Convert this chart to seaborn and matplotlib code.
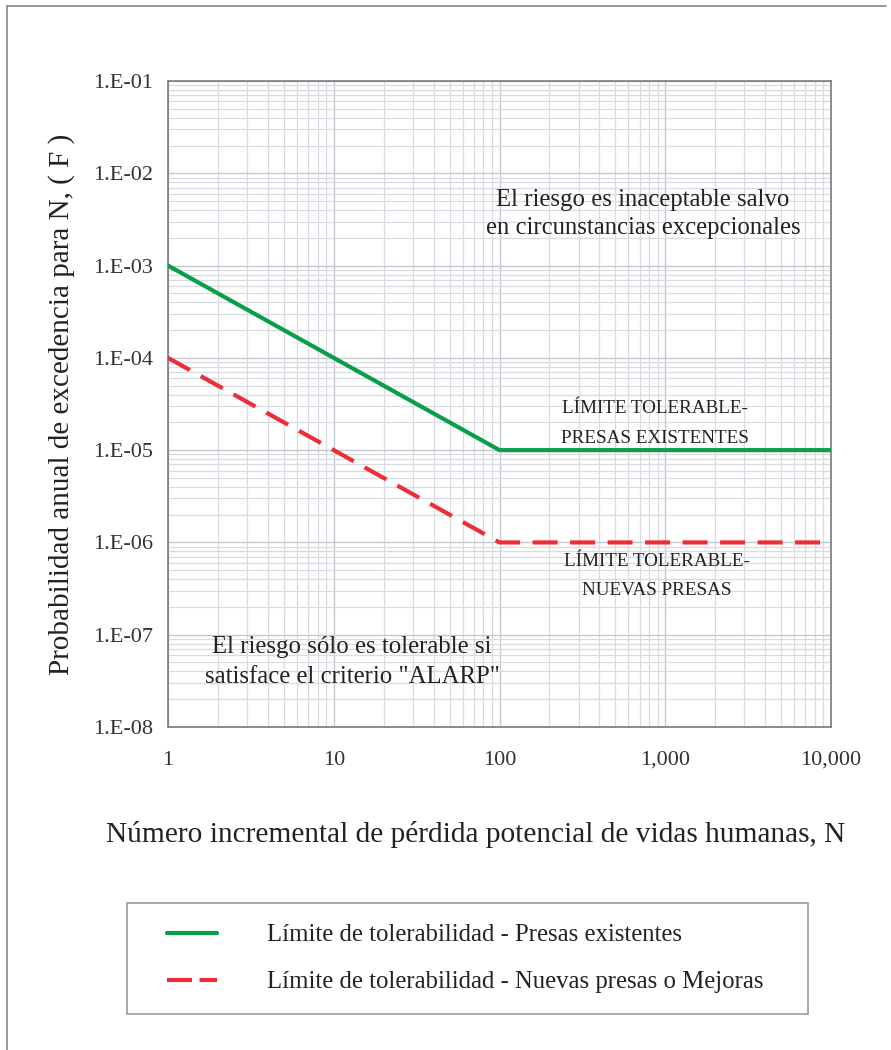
import numpy as np
import pandas as pd
import matplotlib
matplotlib.use("Agg")
import matplotlib.pyplot as plt
from matplotlib.lines import Line2D
from matplotlib.ticker import FixedLocator, FuncFormatter, LogLocator, NullFormatter
import seaborn as sns

## data
n_vidas = [1, 100, 10000]
f_existentes = [1e-3, 1e-5, 1e-5]
f_nuevas = [1e-4, 1e-6, 1e-6]
lbl_existentes = "Límite de tolerabilidad - Presas existentes"
lbl_nuevas = "Límite de tolerabilidad - Nuevas presas o Mejoras"
x_ticks = [1, 10, 100, 1000, 10000]
x_ticklabels = ["1", "10", "100", "1,000", "10,000"]
y_ticks = [1e-8, 1e-7, 1e-6, 1e-5, 1e-4, 1e-3, 1e-2, 1e-1]
y_ticklabels = ["1.E-08", "1.E-07", "1.E-06", "1.E-05", "1.E-04", "1.E-03", "1.E-02", "1.E-01"]

sns.set_style("white")
plt.rcParams['font.family'] = ['Liberation Serif', 'DejaVu Serif']

W, H = 891, 1050
fig = plt.figure(figsize=(W/100, H/100), dpi=100)
ax = fig.add_axes([168/W, 1-727/H, (831-168)/W, (727-81)/H])

green = "#0a9e4a"
red = "#ee2e36"
df1 = pd.DataFrame({"N": n_vidas, "F": f_existentes})
df2 = pd.DataFrame({"N": n_vidas, "F": f_nuevas})
sns.lineplot(data=df1, x="N", y="F", color=green, lw=3, ax=ax, zorder=5, label=lbl_existentes)
sns.lineplot(data=df2, x="N", y="F", color=red, lw=3, ax=ax, zorder=5, label=lbl_nuevas)
ax.lines[1].set_dashes([6, 3])
ax.set_xscale("log")
ax.set_yscale("log")
ax.set_xlim(1, 10000)
ax.set_ylim(1e-8, 1e-1)

ax.xaxis.set_major_locator(FixedLocator(x_ticks))
ax.xaxis.set_major_formatter(FuncFormatter(lambda v, p: x_ticklabels[x_ticks.index(v)] if v in x_ticks else ""))
ax.yaxis.set_major_locator(FixedLocator(y_ticks))
ax.yaxis.set_major_formatter(FuncFormatter(lambda v, p: y_ticklabels[int(round(np.log10(v)))+8]))
ax.xaxis.set_minor_locator(LogLocator(base=10, subs=np.arange(2, 10)))
ax.yaxis.set_minor_locator(LogLocator(base=10, subs=np.arange(2, 10)))
ax.xaxis.set_minor_formatter(NullFormatter())
ax.yaxis.set_minor_formatter(NullFormatter())
ax.grid(which="major", color="#c4c8d0", lw=1)
ax.grid(which="minor", color="#d8dbe2", lw=0.9)
ax.tick_params(which="major", length=5, width=1, color="#777777", labelsize=16, labelcolor="#333333", pad=6)
ax.tick_params(which="minor", length=0)
ax.tick_params(axis="x", pad=12)
for s in ax.spines.values():
    s.set_color("#7a7a7a")
    s.set_linewidth(1.2)

ax.set_xlabel("Número incremental de pérdida potencial de vidas humanas, N", fontsize=21.2, color="#222222")
ax.set_ylabel("Probabilidad anual de excedencia para N, ( F )", fontsize=21, color="#222222")
ax.xaxis.set_label_coords((476-168)/663, (727-834)/646)
ax.yaxis.set_label_coords((62-168)/663, 0.5)
ax.xaxis.label.set_va("center")
ax.yaxis.label.set_va("center")

tk = dict(ha="center", va="center", color="#222222")
ax.text(735, 3.6e-3, "El riesgo es inaceptable salvo\nen circunstancias excepcionales", fontsize=17.8, linespacing=1.38, **tk)
ax.text(870, 1.95e-5, "LÍMITE TOLERABLE-\nPRESAS EXISTENTES", fontsize=13.8, linespacing=1.95, **tk)
ax.text(890, 4.3e-7, "LÍMITE TOLERABLE-\nNUEVAS PRESAS", fontsize=13.8, linespacing=1.9, **tk)
ax.text(12.9, 5.1e-8, "El riesgo sólo es tolerable si\nsatisface el criterio \"ALARP\"", fontsize=17.8, linespacing=1.45, **tk)

ax.get_legend().remove()
handles, labels = ax.get_legend_handles_labels()
leg = fig.legend(handles, labels, loc="upper left",
                 bbox_to_anchor=(127/W, 1-1010/H, (808-127)/W, (1010-903)/H),
                 mode="expand", fontsize=17.8, frameon=True, fancybox=False, framealpha=1,
                 edgecolor="#9a9a9a", handlelength=2.79, handletextpad=2.02,
                 borderpad=0.85, labelspacing=1.0, borderaxespad=0)
leg.get_frame().set_linewidth(1.2)
for t in leg.get_texts():
    t.set_color("#222222")
## legend keys sit further right inside the box in the reference
for ln in leg.get_lines():
    xd = np.asarray(ln.get_xdata(), dtype=float)
    ln.set_xdata(np.linspace(xd[0] + 13.5, xd[-1], len(xd)))
leg.get_lines()[1].set_dashes([6, 1.8])

## outer frame (left and top only)
fig.add_artist(Line2D([7/W, 7/W], [0, 1-6/H], color="#888888", lw=1.2))
fig.add_artist(Line2D([7/W, 886/W], [1-6/H, 1-6/H], color="#888888", lw=1.2))

fig.savefig("out.png", dpi=100)
